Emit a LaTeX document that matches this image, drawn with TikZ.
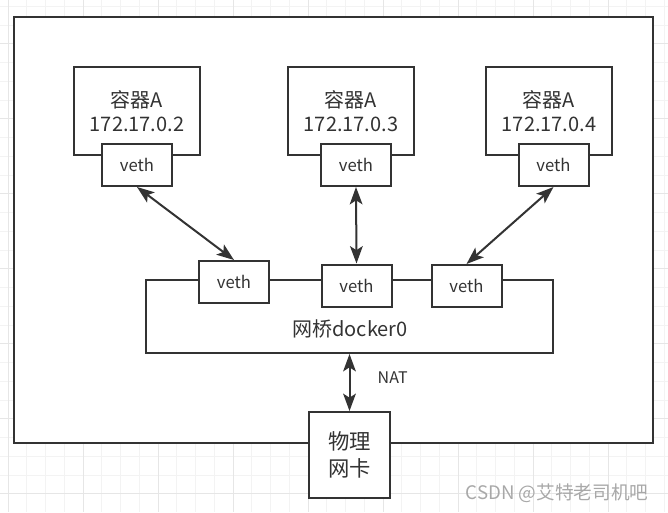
\documentclass[tikz,border=0pt]{standalone}
\usepackage{fontspec}
\setmainfont{Noto Sans CJK SC}
\usetikzlibrary{arrows.meta}

\definecolor{ink}{HTML}{333333}
\definecolor{gridminor}{HTML}{F3F3F3}
\definecolor{gridmajor}{HTML}{E6E6E6}
\definecolor{wmark}{HTML}{A8A8A8}

\tikzset{
  box/.style={draw=ink, line width=1.5pt, fill=white, text=ink, inner sep=0pt},
  ctrbox/.style={box, minimum width=94.5pt, minimum height=66pt, align=center,
    font=\fontsize{15}{18}\selectfont},
  vethbox/.style={box, minimum width=52.5pt, minimum height=31.5pt,
    font=\fontsize{12.5}{15}\selectfont},
  link/.style={draw=ink, line width=1.5pt,
    {Stealth[length=13pt,width=9.5pt,inset=3pt]}-{Stealth[length=13pt,width=9.5pt,inset=3pt]}},
}

\begin{document}
\begin{tikzpicture}[x=0.75pt,y=-0.75pt]
			\useasboundingbox (0,0) rectangle (668,512);
			
			% grid
			\foreach \gx in {8,26.75,...,668} \draw[gridminor, line width=0.75pt] (\gx,0) -- (\gx,512);
			\foreach \gy in {6.25,25,...,512} \draw[gridminor, line width=0.75pt] (0,\gy) -- (668,\gy);
			\foreach \gx in {8,83,...,668} \draw[gridmajor, line width=0.75pt] (\gx,0) -- (\gx,512);
			\foreach \gy in {43.75,118.75,...,512} \draw[gridmajor, line width=0.75pt] (0,\gy) -- (668,\gy);
			
			% host
			\node[box, minimum width=479.25pt, minimum height=319.5pt] (host) at (333.5,230) {};
			
			% containers
			\node[ctrbox] (ctra) at (137,111) {容器A\\172.17.0.2};
			\node[ctrbox] (ctrb) at (351,111) {容器A\\172.17.0.3};
			\node[ctrbox] (ctrc) at (549,111) {容器A\\172.17.0.4};
			
			\node[vethbox] (va) at (137,165) {veth};
			\node[vethbox] (vb) at (356,165) {veth};
			\node[vethbox] (vc) at (553.5,165) {veth};
			
			% bridge
			\node[box, minimum width=305.25pt, minimum height=54.75pt] (bridge) at (349.5,316.5) {};
			\node[text=ink, font=\fontsize{15}{18}\selectfont] (brname) at (350,329) {网桥docker0};
			
			\node[vethbox] (ba) at (234,282) {veth};
			\node[vethbox] (bb) at (356.5,285.5) {veth};
			\node[vethbox] (bc) at (466.5,286) {veth};
			
			\draw[link] (va.south) -- (ba.north);
			\draw[link] (vb.south) -- (bb.north);
			\draw[link] (vc.south) -- (bc.north);
			
			% physical nic
			\node[box, minimum width=60.75pt, minimum height=64.5pt, align=center,
			  font=\fontsize{16}{20}\selectfont] (nic) at (349.5,455) {物理\\网卡};
			\draw[link] (bridge.south) -- (nic.north);
			\node[anchor=west, text=ink, font=\fontsize{12}{14}\selectfont] (nat) at (373,378) {NAT};
			
			\node[text=wmark, font=\fontsize{14}{16}\selectfont] (wm) at (557,493) {CSDN @艾特老司机吧};
\end{tikzpicture}
\end{document}
